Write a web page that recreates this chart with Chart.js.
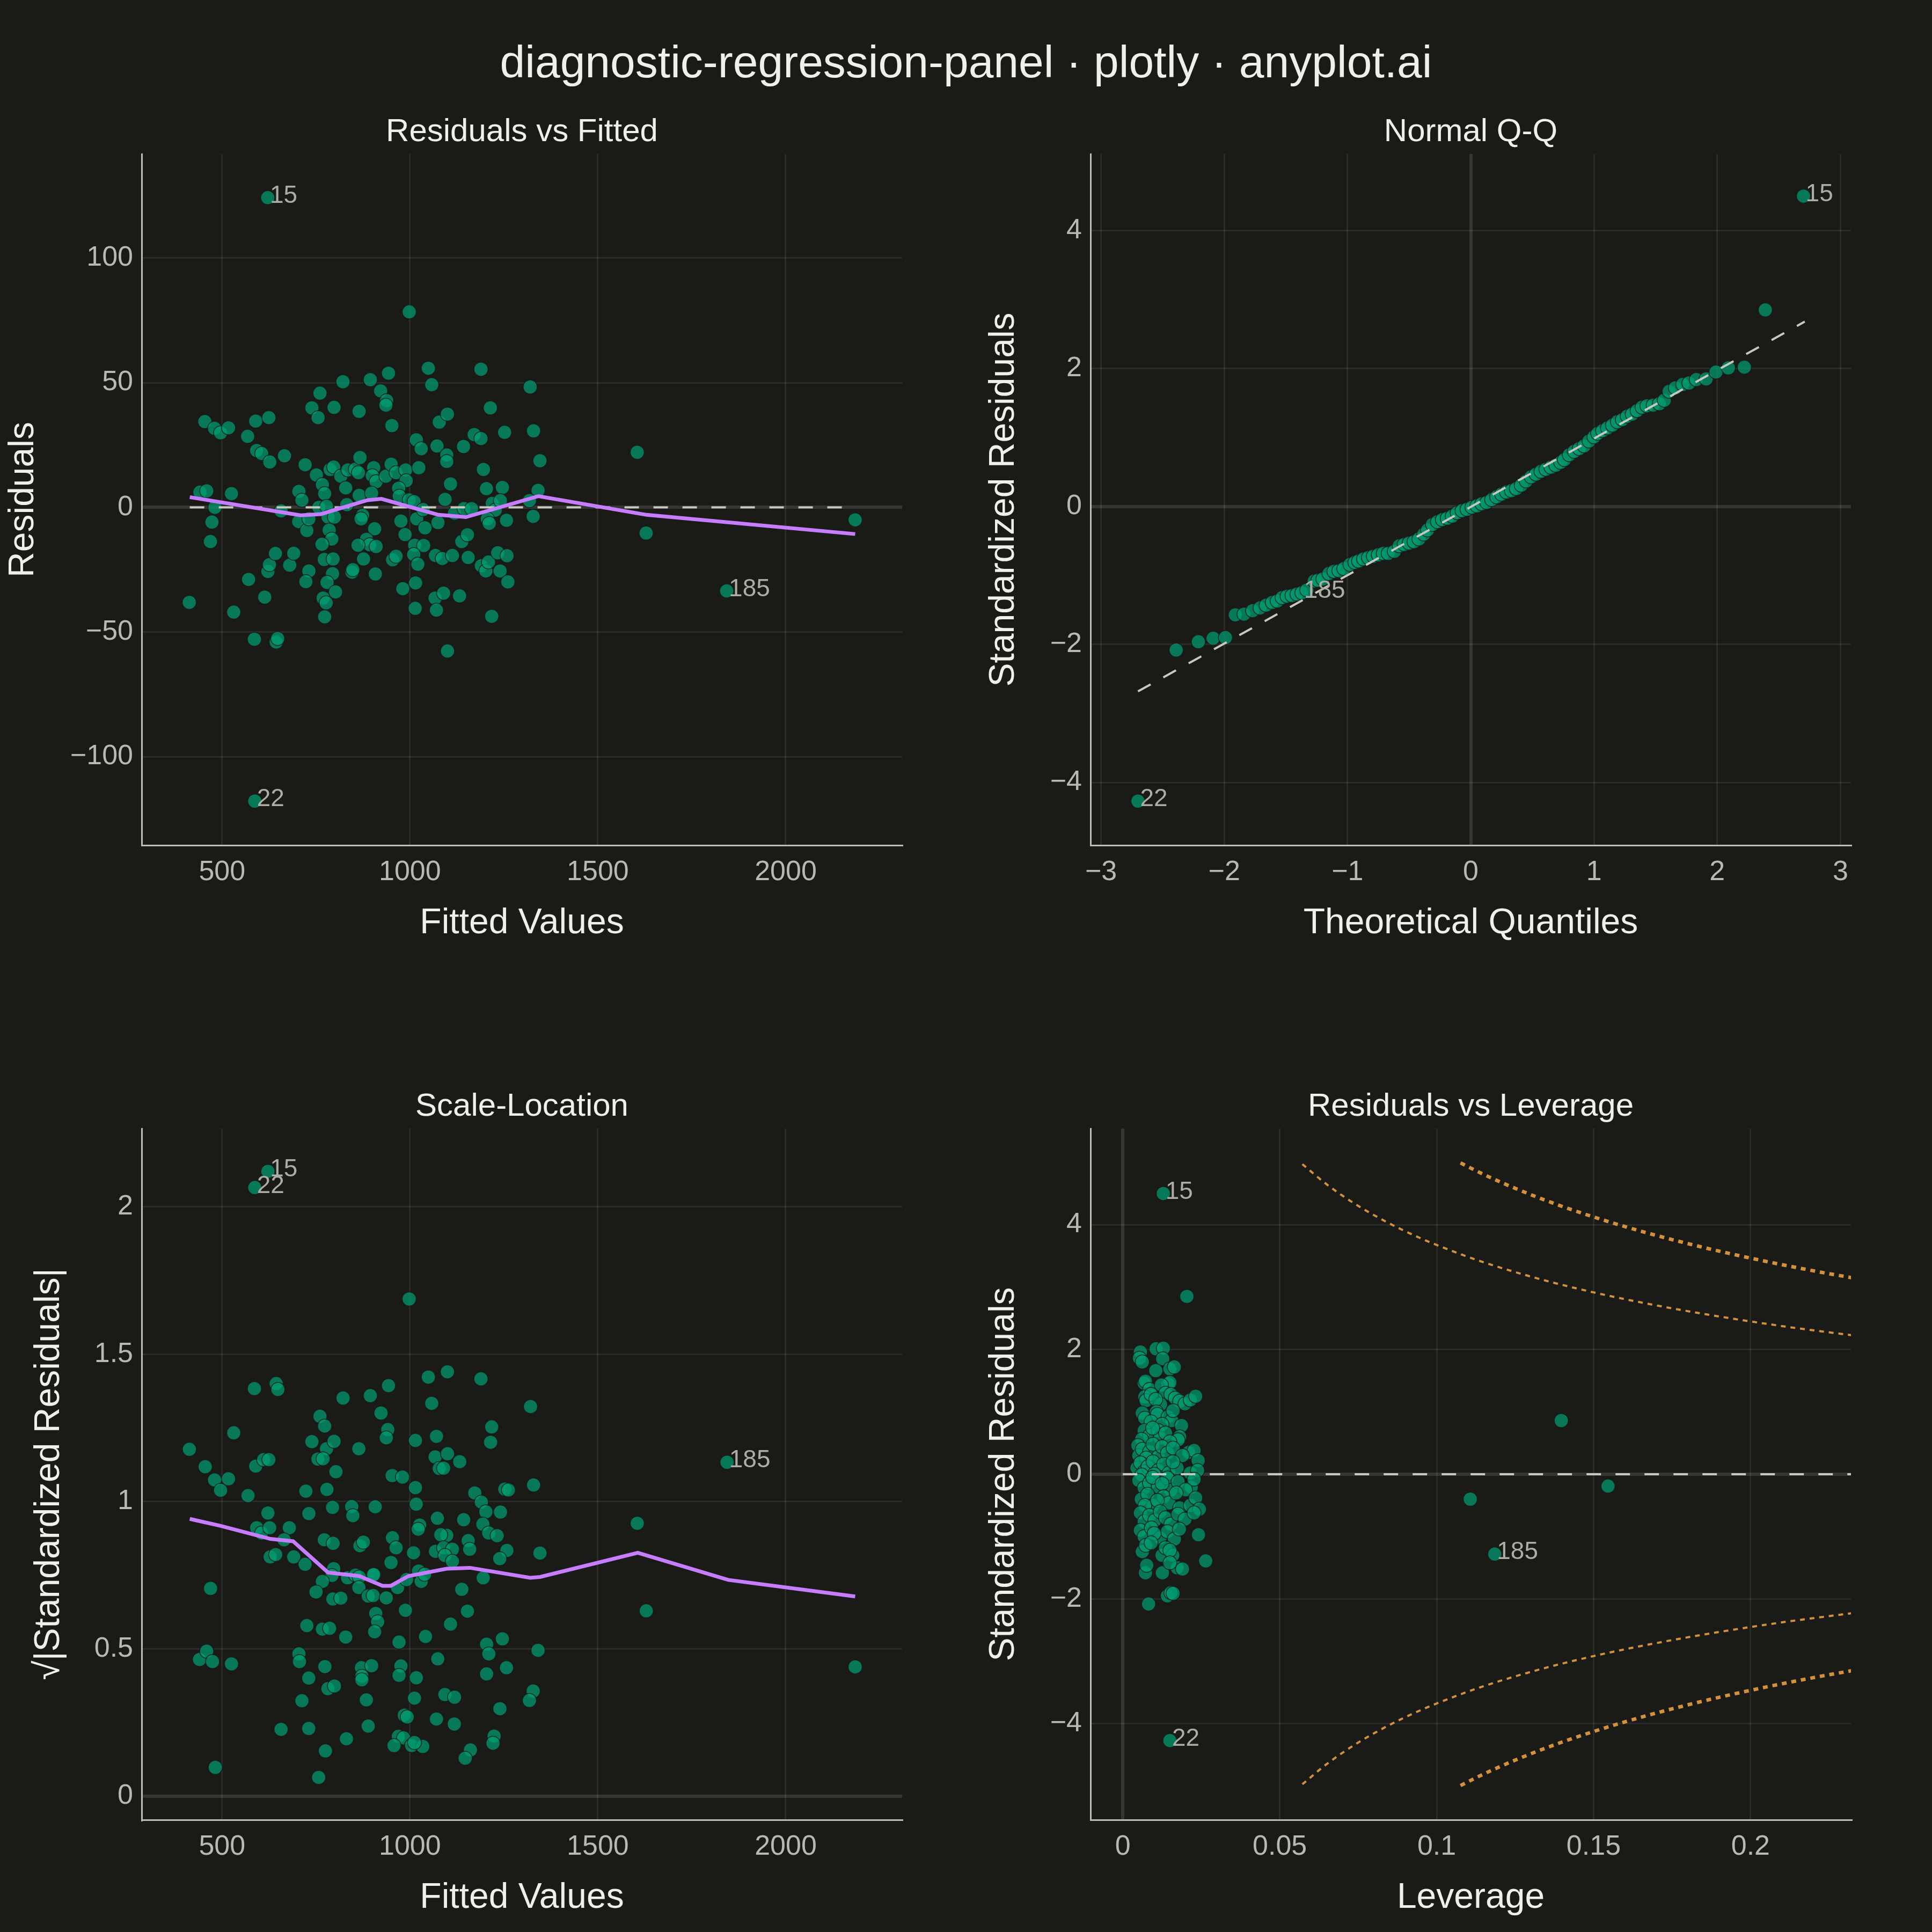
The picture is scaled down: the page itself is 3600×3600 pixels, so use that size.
<!DOCTYPE html>
<html>
<head>
<meta charset="utf-8">
<script src="https://cdn.jsdelivr.net/npm/chart.js@4.4.1/dist/chart.umd.min.js"></script>
<style>
    html, body { margin: 0; padding: 0; background: #1A1A17; }
    body { width: 3600px; height: 3600px; position: relative; overflow: hidden; font-family: 'Liberation Sans', Arial, sans-serif; }
    #title { position: absolute; left: 0; top: 55px; width: 3600px; height: 120px; line-height: 120px; text-align: center; font-size: 84px; color: #F0EFE8; }
    canvas { position: absolute; }
</style>
</head>
<body>
<div id="title">diagnostic-regression-panel · plotly · anyplot.ai</div>
<canvas id="residFitted" width="1760" height="1580" style="left:0px;top:180px"></canvas>
<canvas id="normalQQ" width="1760" height="1580" style="left:1800px;top:180px"></canvas>
<canvas id="scaleLocation" width="1760" height="1580" style="left:0px;top:1996px"></canvas>
<canvas id="residLeverage" width="1760" height="1580" style="left:1800px;top:1996px"></canvas>
<script>
// ---- data ----

// Residuals vs Fitted: [fitted, residual]
const residFittedPoints = [
    [621.5,124.2],[587,-117.8],[998,78.4],[412.7,-38.1],[454,34.4],[480,31.7],[496,29.9],[517,31.9],[441,6.1],[459,6.6],
    [481,0],[473,-5.9],[469,-13.7],[525,5.5],[531,-42],[568,28.5],[589.5,34.6],[624.5,36],[592,22.8],[605.5,21.6],
    [627,18.2],[666,20.7],[570.6,-28.9],[613.5,-36],[586,-52.9],[644,-54],[648,-52.6],[622,-25.7],[626,-23],[642,-18.5],
    [680,-23.2],[690.7,-18.4],[657,-1.4],[704.5,6.4],[712.5,2.9],[721,17.1],[704,-5.7],[725.6,-9.3],[731,-4.6],[731,-25.5],
    [723,-29.8],[739,39.9],[760.5,45.8],[755.5,36],[751,13],[767,9.1],[773,5.5],[757.6,0],[778,0.4],[782,-3.9],
    [799,-3.9],[785,-9.1],[792,-12.7],[766,-14.8],[772,-20.9],[795.5,-20.7],[794,-26.6],[779.5,-30.1],[802,-33.9],[769,-36.4],
    [777,-38.3],[773,-43.9],[798,40.1],[821.7,50.4],[787.6,15.2],[797,16.2],[816,12.5],[829,7.8],[832,1.1],[835,15],
    [854.5,15.3],[863,13.9],[867,20],[864.6,38.5],[894.5,51.2],[922,46.7],[943,53.8],[938,42.8],[936,41],[952,32.8],
    [903.5,15.9],[900,12.7],[910,10.3],[936,12.5],[950,17.3],[963,13.9],[988.5,15],[990,10.7],[970,7.7],[971.6,4.5],
    [865,4.8],[898,5.7],[874,-3.2],[870,-4.6],[906,-8.6],[884,-12.8],[893,-15],[910,-15.7],[862,-15.2],[876.5,-20.7],
    [845.7,-26],[848,-25],[908,-26.7],[954,-21],[963,-19.6],[981,-32.6],[976,-5.5],[987,-10.9],[998,3],[1011,2.3],
    [1023.5,15.9],[1017,27.1],[1030,23.5],[1049,55.8],[1058,49.2],[1018,-4.6],[1040,-8.2],[1035,-0.9],[1012.5,-15.2],[1036.5,-15.3],
    [1010,-18.9],[1021,-22.8],[1015,-30.3],[1014,-40.5],[1067,-36.4],[1070.6,-41.2],[1089.5,-34.4],[1100,-57.6],[1132,-35.5],[1068,-19.3],
    [1086,-20.5],[1113,-19.3],[1074.6,-6.1],[1093.5,3.2],[1108,9.4],[1072,24.6],[1078,34.2],[1099.7,37.4],[1098,21],[1098,18.4],
    [1118.6,-2.3],[1144,-0.5],[1164,-0.5],[1138,-13.7],[1153,-11],[1155,-20.1],[1142.6,24.4],[1171,29.2],[1189,27.6],[1189,55.4],
    [1214,39.9],[1195.6,15.2],[1203.6,7.5],[1219,1.6],[1227,-1.1],[1206,-4.6],[1211,-6.4],[1246,8],[1257,-5.2],[1240.6,2.7],
    [1252,30.1],[1190,-23.4],[1202,-25.5],[1209,-21.9],[1233.6,-18.2],[1258.4,-19.4],[1240,-25.5],[1260.6,-29.9],[1217.6,-43.7],[1320,48.3],
    [1329,30.7],[1346,18.7],[1341,6.8],[1318,2.7],[1328,-3.6],[1605,22.1],[1628.6,-10.3],[1843,-33.5],[2185,-5]
];
const residFittedLoess = [[414,4.1],[709,-3.2],[763,-2.7],[887,2.9],[924,3.4],[1076,-3],[1149,-3.9],[1342,4.5],[1630,-3],[2185,-10.7]];
const residFittedZero = [[414,0],[2185,0]];
const residFittedLabels = [[621.5,124.2,'15'],[587,-117.8,'22'],[1843,-33.5,'185']];

// Normal Q-Q: [theoretical, standardized]
const qqPoints = [
    [-2.70,-4.27],[-2.39,-2.08],[-2.21,-1.96],[-2.09,-1.91],[-1.99,-1.90],[-1.91,-1.57],[-1.84,-1.56],[-1.77,-1.51],[-1.71,-1.47],[-1.66,-1.43],
    [-1.61,-1.39],[-1.57,-1.37],[-1.53,-1.32],[-1.49,-1.30],[-1.45,-1.29],[-1.41,-1.27],[-1.37,-1.25],[-1.33,-1.21],[-1.27,-1.08],[-1.24,-1.07],
    [-1.20,-1.05],[-1.15,-0.97],[-1.11,-0.94],[-1.07,-0.93],[-1.03,-0.90],[-0.98,-0.84],[-0.94,-0.81],[-0.91,-0.79],[-0.87,-0.76],[-0.83,-0.74],
    [-0.79,-0.72],[-0.75,-0.70],[-0.71,-0.68],[-0.67,-0.68],[-0.62,-0.65],[-0.58,-0.57],[-0.54,-0.55],[-0.50,-0.53],[-0.46,-0.51],[-0.42,-0.47],
    [-0.38,-0.40],[-0.35,-0.34],[-0.31,-0.26],[-0.27,-0.22],[-0.23,-0.19],[-0.19,-0.17],[-0.15,-0.14],[-0.11,-0.09],[-0.07,-0.06],[-0.03,-0.04],
    [0.01,-0.01],[0.05,0.01],[0.09,0.04],[0.13,0.06],[0.17,0.10],[0.21,0.14],[0.25,0.18],[0.29,0.21],[0.33,0.23],[0.37,0.26],
    [0.41,0.31],[0.45,0.37],[0.49,0.43],[0.53,0.47],[0.57,0.51],[0.61,0.54],[0.65,0.57],[0.69,0.60],[0.73,0.64],[0.76,0.68],
    [0.80,0.75],[0.84,0.80],[0.88,0.84],[0.92,0.88],[0.96,0.95],[1.00,1.01],[1.03,1.06],[1.07,1.10],[1.11,1.14],[1.15,1.18],
    [1.19,1.23],[1.23,1.26],[1.27,1.31],[1.31,1.34],[1.35,1.39],[1.39,1.44],[1.43,1.46],[1.48,1.47],[1.53,1.49],[1.57,1.54],
    [1.61,1.67],[1.66,1.72],[1.72,1.77],[1.77,1.79],[1.83,1.84],[1.91,1.85],[1.99,1.95],[2.09,2.01],[2.22,2.02],[2.39,2.85],
    [2.70,4.50]
];
const qqReference = [[-2.70,-2.68],[2.71,2.68]];
const qqLabels = [[2.70,4.50,'15'],[-2.70,-4.27,'22'],[-1.37,-1.25,'185']];

// Scale-Location: [fitted, sqrt(|standardized|)]
const scaleLocPoints = [
    [622,2.12],[587,2.065],[998,1.687],[413,1.177],[455,1.118],[480,1.073],[496,1.038],[517,1.077],[531,1.233],[569,1.02],
    [586,1.383],[589.5,1.12],[610.6,1.142],[624.5,1.142],[644,1.4],[648.5,1.38],[622,0.961],[592,0.911],[605,0.893],[626.6,0.911],
    [679,0.911],[665,0.87],[628,0.812],[642.6,0.82],[690.7,0.812],[721,0.787],[723,1.035],[731,0.959],[739,1.203],[760.5,1.289],
    [773,1.256],[778,1.179],[798,1.204],[755,1.144],[768.6,1.145],[803,1.101],[779,1.041],[822,1.351],[794,0.98],[845,0.983],
    [848,0.952],[864,1.179],[894.5,1.359],[923,1.3],[943,1.393],[941,1.244],[937,1.216],[907.6,0.982],[952.7,1.088],[980,1.083],
    [1014.6,1.207],[1014.6,1.047],[1016.7,0.991],[1049,1.422],[1058,1.333],[1099.7,1.44],[1070.6,1.221],[1067,1.151],[1100,1.162],[1078,1.112],
    [1089.5,1.113],[1132.5,1.135],[1189,1.416],[1217.6,1.253],[1214.7,1.201],[1172.5,1.029],[1190,0.998],[1202,0.965],[1252.5,1.042],[1262,1.039],
    [1321,1.322],[1329,1.056],[1241,0.964],[1143,0.938],[1073,0.943],[1026,0.92],[1022,0.906],[1194,0.923],[1209.6,0.893],[1232,0.884],
    [1155,0.867],[1159,0.838],[1098,0.885],[1082,0.887],[1068,0.831],[1089.5,0.843],[1113,0.838],[1093,0.817],[1113,0.797],[1258,0.834],
    [1239,0.806],[1346,0.825],[1195,0.741],[1138,0.702],[1153,0.628],[1108,0.584],[1041.5,0.542],[953.4,0.877],[963,0.843],[1009.5,0.826],
    [949.6,0.793],[867,0.85],[876,0.862],[772,0.87],[795.5,0.858],[797,0.772],[792.5,0.749],[834,0.741],[855,0.75],[865,0.744],
    [767,0.729],[750,0.693],[794.8,0.669],[816,0.672],[864,0.708],[889,0.679],[902,0.681],[905,0.752],[903,0.752],[937,0.673],
    [967,0.708],[991,0.735],[1023,0.764],[1030,0.729],[1039,0.753],[988,0.631],[909,0.62],[914,0.592],[906,0.558],[971,0.523],
    [829,0.54],[725.6,0.579],[767,0.567],[786,0.57],[704.5,0.483],[706,0.457],[773.6,0.44],[730.7,0.401],[781.7,0.365],[799,0.374],
    [712.5,0.324],[871,0.436],[898,0.443],[872,0.407],[872,0.395],[976,0.442],[971,0.41],[1017,0.402],[1012,0.333],[1074,0.466],
    [884,0.327],[1093,0.345],[1118.6,0.336],[1204,0.516],[1210,0.483],[1246,0.534],[1257,0.436],[1204,0.415],[1341,0.495],[1328,0.357],
    [1318,0.325],[1239.5,0.297],[1224,0.204],[1221,0.18],[1161,0.157],[1147,0.129],[1118,0.245],[1070.6,0.262],[985,0.275],[992.7,0.269],
    [889,0.238],[831,0.195],[775,0.154],[730.7,0.23],[657,0.227],[757,0.064],[969,0.203],[983,0.198],[957.6,0.172],[1004.5,0.172],
    [1034,0.169],[1012,0.182],[469.4,0.705],[440,0.464],[459,0.492],[474.5,0.457],[525,0.449],[482,0.098],[1605,0.926],[1629,0.629],
    [1844,1.133],[2185,0.439]
];
const scaleLocLoess = [[414,0.941],[494,0.918],[629,0.873],[689,0.865],[782,0.759],[865,0.747],[927,0.714],[949,0.714],[996,0.747],
    [1098,0.772],[1160,0.775],[1320,0.741],[1346,0.744],[1606.5,0.826],[1847,0.734],[2185,0.678]];
const scaleLocLabels = [[622,2.12,'15'],[587,2.065,'22'],[1844,1.133,'185']];

// Residuals vs Leverage: [leverage, standardized]
const leveragePoints = [
    [0.0129,4.5],[0.0204,2.85],[0.0150,-4.27],
    [0.0056,1.96],[0.0053,1.86],[0.0062,1.80],[0.0106,2.01],[0.0129,2.02],[0.0127,1.85],[0.0150,1.69],[0.0164,1.72],[0.0105,1.66],
    [0.0068,1.46],[0.0072,1.49],[0.0085,1.36],[0.0144,1.45],[0.0150,1.47],[0.0123,1.43],
    [0.0070,1.24],[0.0074,1.18],[0.0090,1.28],[0.0136,1.30],[0.0153,1.28],[0.0167,1.22],[0.0181,1.17],[0.0198,1.13],[0.0215,1.19],[0.0232,1.25],[0.0120,1.12],[0.0105,1.20],
    [0.0062,0.98],[0.0070,0.90],[0.0107,1.00],[0.0110,0.96],[0.0144,0.92],[0.0156,0.86],[0.0187,0.78],[0.0090,0.84],[0.0125,0.80],[0.0160,1.02],
    [0.0068,0.70],[0.0085,0.62],[0.0113,0.70],[0.0119,0.58],[0.0136,0.66],[0.0181,0.60],[0.0176,0.55],[0.0060,0.56],[0.0095,0.74],[0.0150,0.52],
    [0.0048,0.46],[0.0051,0.30],[0.0062,0.40],[0.0085,0.36],[0.0096,0.48],[0.0113,0.28],[0.0125,0.44],[0.0142,0.34],[0.0210,0.35],[0.0227,0.38],
    [0.0240,0.22],[0.0075,0.26],[0.0160,0.42],[0.0190,0.30],
    [0.0045,0.10],[0.0056,0.18],[0.0068,0.04],[0.0080,0.12],[0.0096,0.20],[0.0113,0.06],[0.0130,0.16],[0.0147,0.02],[0.0173,0.10],[0.0215,0.02],
    [0.0238,0.06],[0.0100,0.00],[0.0160,0.20],[0.0060,-0.01],
    [0.0051,-0.10],[0.0068,-0.22],[0.0085,-0.14],[0.0113,-0.20],[0.0142,-0.06],[0.0153,-0.26],[0.0176,-0.12],[0.0218,-0.21],[0.0227,-0.08],[0.0095,-0.05],
    [0.0125,-0.15],[0.0200,-0.25],
    [0.0059,-0.40],[0.0079,-0.32],[0.0096,-0.50],[0.0130,-0.36],[0.0147,-0.46],[0.0170,-0.30],[0.0181,-0.54],[0.0215,-0.50],[0.0232,-0.38],[0.0244,-0.56],
    [0.0070,-0.50],[0.0110,-0.42],
    [0.0056,-0.62],[0.0068,-0.76],[0.0085,-0.66],[0.0102,-0.74],[0.0119,-0.60],[0.0136,-0.70],[0.0153,-0.80],[0.0176,-0.64],[0.0198,-0.72],[0.0227,-0.62],
    [0.0056,-0.90],[0.0068,-1.00],[0.0091,-0.86],[0.0119,-1.02],[0.0142,-0.92],[0.0164,-1.04],[0.0241,-0.97],[0.0100,-0.95],[0.0180,-0.88],
    [0.0062,-1.24],[0.0073,-1.14],[0.0125,-1.30],[0.0136,-1.18],[0.0159,-1.30],[0.0090,-1.10],[0.0150,-1.22],
    [0.0072,-1.58],[0.0076,-1.46],[0.0126,-1.58],[0.0173,-1.50],[0.0190,-1.52],[0.0264,-1.39],[0.0150,-1.42],
    [0.0082,-2.08],[0.0142,-1.95],[0.0153,-1.90],[0.0160,-1.91],
    [0.1107,-0.40],[0.1397,0.86],[0.1546,-0.19],[0.1185,-1.28]
];
const leverageZero = [[0,0],[0.235,0]];
const leverageLabels = [[0.0129,4.5,'15'],[0.0150,-4.27,'22'],[0.1185,-1.28,'185']];

// Cook's distance contours (D = 0.5 and D = 1)
const cookHalfUpper = [[0.0572,4.97],[0.065,4.645],[0.075,4.301],[0.09,3.894],[0.11,3.484],[0.13,3.168],[0.15,2.915],[0.17,2.706],[0.19,2.529],[0.21,2.375],[0.235,2.21]];
const cookHalfLower = [[0.0572,-4.97],[0.065,-4.645],[0.075,-4.301],[0.09,-3.894],[0.11,-3.484],[0.13,-3.168],[0.15,-2.915],[0.17,-2.706],[0.19,-2.529],[0.21,-2.375],[0.235,-2.21]];
const cookOneUpper = [[0.1076,4.99],[0.115,4.805],[0.125,4.583],[0.14,4.293],[0.16,3.969],[0.18,3.697],[0.2,3.464],[0.22,3.261],[0.235,3.125]];
const cookOneLower = [[0.1076,-4.99],[0.115,-4.805],[0.125,-4.583],[0.14,-4.293],[0.16,-3.969],[0.18,-3.697],[0.2,-3.464],[0.22,-3.261],[0.235,-3.125]];

// tick labels
const fittedTicks = [500, 1000, 1500, 2000];
const residTicks = [-100, -50, 0, 50, 100];
const quantileTicks = [-3, -2, -1, 0, 1, 2, 3];
const stdResidTicks = [-4, -2, 0, 2, 4];
const sqrtTicks = [0, 0.5, 1, 1.5, 2];
const leverageTicks = [0, 0.05, 0.1, 0.15, 0.2];

// ---- styling ----
const FONT = "'Liberation Sans', Arial, sans-serif";
const TEXT = '#F0EFE8';
const TICK_TEXT = '#B9B9B1';
const LABEL_TEXT = '#ADADA5';
const GRID = 'rgba(255, 255, 255, 0.08)';
const ZERO_LINE = 'rgba(255, 255, 255, 0.12)';
const AXIS_LINE = '#BDBDB5';
const MARKER = 'rgba(0, 158, 115, 0.72)';
const MARKER_EDGE = 'rgba(26, 26, 23, 0.85)';
const LOESS = '#C77DFF';
const REF_LINE = '#C8C8C0';
const COOK = '#D4903C';

function fmt(v) {
    return v < 0 ? '\u2212' + Math.abs(v) : String(v);
}

function toXY(pairs) {
    return pairs.map(p => ({ x: p[0], y: p[1] }));
}

function pointsDataset(pairs) {
    return {
        data: toXY(pairs),
        backgroundColor: MARKER,
        borderColor: MARKER_EDGE,
        borderWidth: 1.5,
        pointRadius: 13,
        order: 5
    };
}

function lineDataset(pairs, color, width, dash, order, smooth) {
    return {
        data: toXY(pairs),
        showLine: true,
        borderColor: color,
        borderWidth: width,
        borderDash: dash,
        pointRadius: 0,
        fill: false,
        tension: smooth ? 0.4 : 0,
        cubicInterpolationMode: smooth ? 'monotone' : 'default',
        order: order
    };
}

function axisOptions(axis, range, ticks, title, fitSize, titlePad) {
    const isX = axis === 'x';
    return {
        type: 'linear',
        position: isX ? 'bottom' : 'left',
        min: range[0],
        max: range[1],
        afterBuildTicks: s => { s.ticks = ticks.map(v => ({ value: v })); },
        afterFit: s => { if (isX) s.height = fitSize; else s.width = fitSize; },
        grid: {
            drawTicks: false,
            color: c => (c.tick && c.tick.value === 0) ? ZERO_LINE : GRID,
            lineWidth: c => (c.tick && c.tick.value === 0) ? 6 : 3
        },
        border: { display: true, color: AXIS_LINE, width: 3 },
        ticks: {
            color: TICK_TEXT,
            font: { family: FONT, size: 52 },
            padding: isX ? 19 : 16,
            maxRotation: 0,
            autoSkip: false,
            callback: v => fmt(v)
        },
        title: {
            display: true,
            text: title,
            color: TEXT,
            font: { family: FONT, size: 66 },
            padding: isX ? { top: 0, bottom: 0 } : { top: titlePad, bottom: 0 }
        }
    };
}

// text next to flagged observations
function labelPlugin(labels) {
    return {
        id: 'obsLabels',
        afterDatasetsDraw(chart) {
            const { ctx, scales } = chart;
            ctx.save();
            ctx.font = '46px ' + FONT;
            ctx.fillStyle = LABEL_TEXT;
            ctx.textAlign = 'left';
            ctx.textBaseline = 'middle';
            labels.forEach(l => {
                ctx.fillText(l[2], scales.x.getPixelForValue(l[0]) + 4, scales.y.getPixelForValue(l[1]) - 3);
            });
            ctx.restore();
        }
    };
}

function buildPanel(id, cfg) {
    const ctx = document.getElementById(id);
    return new Chart(ctx, {
        type: 'scatter',
        data: { datasets: cfg.datasets },
        options: {
            responsive: false,
            animation: false,
            devicePixelRatio: 1,
            layout: { padding: { left: 0, right: cfg.padRight, top: 0, bottom: 0 } },
            plugins: {
                legend: { display: false },
                tooltip: { enabled: false },
                title: {
                    display: true,
                    fullSize: false,
                    text: cfg.title,
                    color: TEXT,
                    font: { family: FONT, size: 60, weight: 'normal' },
                    padding: { top: 30, bottom: 5 }
                }
            },
            scales: {
                x: axisOptions('x', cfg.xRange, cfg.xTicks, cfg.xTitle, 185, 0),
                y: axisOptions('y', cfg.yRange, cfg.yTicks, cfg.yTitle, cfg.yWidth, cfg.yTitlePad)
            }
        },
        plugins: [labelPlugin(cfg.labels)]
    });
}

buildPanel('residFitted', {
    title: 'Residuals vs Fitted',
    datasets: [
        lineDataset(residFittedLoess, LOESS, 7, [], 0, false),
        lineDataset(residFittedZero, REF_LINE, 4, [27, 27], 1, false),
        pointsDataset(residFittedPoints)
    ],
    xRange: [286, 2310], xTicks: fittedTicks, xTitle: 'Fitted Values',
    yRange: [-135.5, 141.7], yTicks: residTicks, yTitle: 'Residuals',
    yWidth: 264, yTitlePad: 4, padRight: 79,
    labels: residFittedLabels
});

buildPanel('normalQQ', {
    title: 'Normal Q-Q',
    datasets: [
        lineDataset(qqReference, REF_LINE, 4, [27, 27], 1, false),
        pointsDataset(qqPoints)
    ],
    xRange: [-3.085, 3.085], xTicks: quantileTicks, xTitle: 'Theoretical Quantiles',
    yRange: [-4.91, 5.11], yTicks: stdResidTicks, yTitle: 'Standardized Residuals',
    yWidth: 232, yTitlePad: 31, padRight: 111,
    labels: qqLabels
});

buildPanel('scaleLocation', {
    title: 'Scale-Location',
    datasets: [
        lineDataset(scaleLocLoess, LOESS, 7, [], 0, false),
        pointsDataset(scaleLocPoints)
    ],
    xRange: [286, 2310], xTicks: fittedTicks, xTitle: 'Fitted Values',
    yRange: [-0.08, 2.265], yTicks: sqrtTicks, yTitle: '\u221A|Standardized Residuals|',
    yWidth: 264, yTitlePad: 52, padRight: 79,
    labels: scaleLocLabels
});

buildPanel('residLeverage', {
    title: 'Residuals vs Leverage',
    datasets: [
        lineDataset(cookHalfUpper, COOK, 4, [9, 9], 2, true),
        lineDataset(cookHalfLower, COOK, 4, [9, 9], 2, true),
        lineDataset(cookOneUpper, COOK, 6.5, [9, 9], 2, true),
        lineDataset(cookOneLower, COOK, 6.5, [9, 9], 2, true),
        lineDataset(leverageZero, REF_LINE, 4, [27, 27], 1, false),
        pointsDataset(leveragePoints)
    ],
    xRange: [-0.0103, 0.232], xTicks: leverageTicks, xTitle: 'Leverage',
    yRange: [-5.54, 5.54], yTicks: stdResidTicks, yTitle: 'Standardized Residuals',
    yWidth: 232, yTitlePad: 31, padRight: 111,
    labels: leverageLabels
});
</script>
</body>
</html>
